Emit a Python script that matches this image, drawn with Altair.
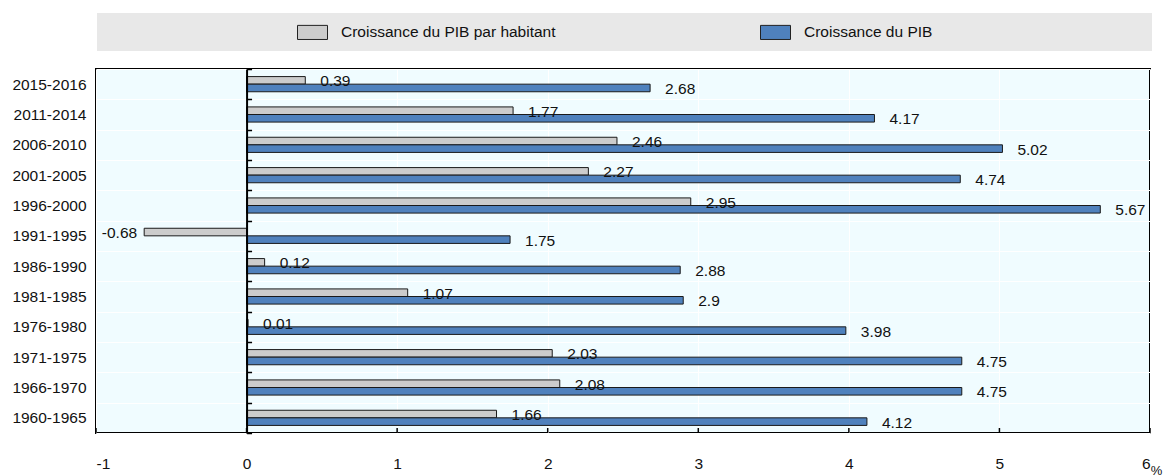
import altair as alt
import pandas as pd

# Periods, top to bottom
periods = ["2015-2016", "2011-2014", "2006-2010", "2001-2005", "1996-2000", "1991-1995",
           "1986-1990", "1981-1985", "1976-1980", "1971-1975", "1966-1970", "1960-1965"]
# Average annual growth (%)
pib_par_habitant = [0.39, 1.77, 2.46, 2.27, 2.95, -0.68, 0.12, 1.07, 0.01, 2.03, 2.08, 1.66]
pib = [2.68, 4.17, 5.02, 4.74, 5.67, 1.75, 2.88, 2.9, 3.98, 4.75, 4.75, 4.12]

series_names = ["Croissance du PIB par habitant", "Croissance du PIB"]
series_colors = ["#cccccc", "#4f81bd"]
x_ticks = [-1, 0, 1, 2, 3, 4, 5, 6]

rows = []
for p, a, b in zip(periods, pib_par_habitant, pib):
    rows.append({"period": p, "series": series_names[0], "value": a, "label": str(a)})
    rows.append({"period": p, "series": series_names[1], "value": b, "label": str(b)})
df = pd.DataFrame(rows)

W, H = 1054, 364
FONT = "Liberation Sans"
FS = 15.5
zero_px = W / 7.0  # position of x = 0 inside the plot

x_scale = alt.Scale(domain=[-1, 6], nice=False)
y_scale = alt.Scale(paddingInner=0, paddingOuter=0)
yoff_scale = alt.Scale(domain=series_names, paddingInner=0, paddingOuter=1)

base = alt.Chart(df)

bars = base.mark_bar(stroke="#1a1a1a", strokeWidth=1).encode(
    x=alt.X("value:Q", scale=x_scale,
            axis=alt.Axis(values=x_ticks, orient="bottom", ticks=False, tickSize=0,
                          domain=False, grid=True, gridColor="white", gridWidth=1,
                          labelExpr="'' + datum.value",
                          labelPadding=23, labelFontSize=FS, labelFont=FONT,
                          labelColor="#111111", title="%", titleX=1060, titleY=31,
                          titleAlign="center", titleBaseline="top", titleFontSize=13,
                          titleFont=FONT, titleFontWeight="normal", titleColor="#111111")),
    y=alt.Y("period:N", sort=periods, scale=y_scale,
            axis=alt.Axis(title=None, ticks=False, domain=False, grid=True,
                          gridColor="white", gridWidth=1, tickBand="extent",
                          labelPadding=10, labelFontSize=FS, labelFont=FONT,
                          labelColor="#111111")),
    yOffset=alt.YOffset("series:N", sort=series_names, scale=yoff_scale),
    color=alt.Color("series:N", sort=series_names,
                    scale=alt.Scale(domain=series_names, range=series_colors),
                    legend=alt.Legend(title=None, orient="none", direction="horizontal",
                                      legendX=201, legendY=-52.3,
                                      symbolType="M-1,-0.47H1V0.47H-1Z", symbolSize=900,
                                      symbolStrokeColor="#222222", symbolStrokeWidth=1,
                                      symbolOpacity=1, labelFont=FONT, labelFontSize=FS,
                                      labelColor="#111111", labelOffset=13, labelLimit=0,
                                      columnPadding=202, padding=0)),
)

# Short inward ticks along the bottom edge
tick_marks = alt.Chart(pd.DataFrame({"t": x_ticks})).mark_rule(
    color="black", strokeWidth=1.5
).encode(
    x=alt.X("t:Q", scale=x_scale, axis=None),
    y=alt.value(H - 5),
    y2=alt.value(H),
)

# Positive values: label to the right of the bar end; this layer also carries
# the zero line with its band ticks
labels_pos = base.transform_filter("datum.value >= 0").mark_text(
    align="left", baseline="middle", dx=15, dy=1, font=FONT, fontSize=FS, color="#111111"
).encode(
    x=alt.X("value:Q", scale=x_scale, axis=None),
    y=alt.Y("period:N", sort=periods, scale=y_scale,
            axis=alt.Axis(orient="right", offset=-(W - zero_px), labels=False,
                          grid=False, ticks=True, tickSize=5, tickWidth=1.5,
                          tickColor="black", tickBand="extent", domain=True,
                          domainColor="black", domainWidth=2, title=None, zindex=1)),
    yOffset=alt.YOffset("series:N", sort=series_names, scale=yoff_scale),
    text="label:N",
)

# Negative values: label to the left of the bar end
labels_neg = base.transform_filter("datum.value < 0").mark_text(
    align="right", baseline="middle", dx=-7, dy=1, font=FONT, fontSize=FS, color="#111111"
).encode(
    x=alt.X("value:Q", scale=x_scale, axis=None),
    y=alt.Y("period:N", sort=periods, scale=y_scale, axis=None),
    yOffset=alt.YOffset("series:N", sort=series_names, scale=yoff_scale),
    text="label:N",
)

# Grey band behind the legend
legend_band = alt.Chart(pd.DataFrame({"k": [0]})).mark_rect(color="#e8e8e8").encode(
    x=alt.value(1), x2=alt.value(W + 2), y=alt.value(-56), y2=alt.value(-18)
)

chart = alt.layer(legend_band, bars, tick_marks, labels_pos, labels_neg).resolve_axis(
    x="independent", y="independent"
).properties(
    width=W, height=H,
    autosize=alt.AutoSizeParams(type="none"),
    padding={"left": 96, "top": 69, "right": 13, "bottom": 43},
).configure_view(
    fill="#f0fcff", stroke="black", strokeWidth=2
)

chart.save("out.html", embed_options={"renderer": "svg", "actions": False})
